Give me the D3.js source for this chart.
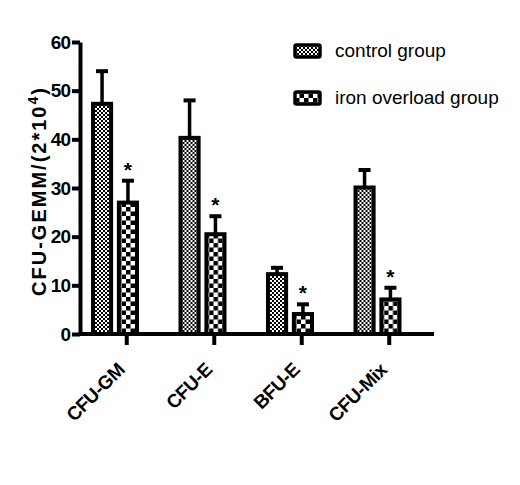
<!DOCTYPE html>
<html>
<head>
<meta charset="utf-8">
<script src="https://cdn.jsdelivr.net/npm/d3@7"></script>
<style>
  body { margin: 0; background: #fff; }
  text { font-family: "Liberation Sans", Arial, sans-serif; }
</style>
</head>
<body>
<div id="chart"></div>
<script>
// data
const categories = ["CFU-GM", "CFU-E", "BFU-E", "CFU-Mix"];
const groupNames = ["control group", "iron overload group"];
const controlMeans = [47.3, 40.3, 12.3, 30.1];
const controlSD = [6.7, 7.7, 1.3, 3.6];
const ironMeans = [27.0, 20.5, 4.1, 7.1];
const ironSD = [4.5, 3.7, 2.0, 2.4];
const significant = [true, true, true, true];
const yTicks = [0, 10, 20, 30, 40, 50, 60];

const width = 520, height = 485;
const plot = {left: 80, right: 434, top: 42, bottom: 334};

const svg = d3.select("#chart").append("svg")
    .attr("width", width)
    .attr("height", height);

// fill patterns: fine checker for control, coarse checker for iron overload
const defs = svg.append("defs");
const fine = defs.append("pattern").attr("id", "fine")
    .attr("patternUnits", "userSpaceOnUse").attr("width", 4).attr("height", 4);
fine.append("rect").attr("width", 4).attr("height", 4).attr("fill", "#fff");
fine.append("rect").attr("width", 2).attr("height", 2).attr("fill", "#000");
fine.append("rect").attr("x", 2).attr("y", 2).attr("width", 2).attr("height", 2).attr("fill", "#000");
const coarse = defs.append("pattern").attr("id", "coarse")
    .attr("patternUnits", "userSpaceOnUse").attr("width", 9).attr("height", 9);
coarse.append("rect").attr("width", 9).attr("height", 9).attr("fill", "#fff");
coarse.append("rect").attr("width", 4.5).attr("height", 4.5).attr("fill", "#000");
coarse.append("rect").attr("x", 4.5).attr("y", 4.5).attr("width", 4.5).attr("height", 4.5).attr("fill", "#000");

const fills = ["url(#fine)", "url(#coarse)"];

const rows = categories.map((c, i) => ({
    cat: c,
    values: [
        {g: 0, mean: controlMeans[i], sd: controlSD[i]},
        {g: 1, mean: ironMeans[i], sd: ironSD[i]}
    ],
    sig: significant[i]
}));

// scales
const x0 = d3.scaleBand().domain(categories).range([plot.left + 1, plot.left + 351]);
const x1 = d3.scaleBand().domain([0, 1]).range([12, 56]).paddingInner(0.3);
const y = d3.scaleLinear().domain([0, 60]).range([plot.bottom, plot.top]);

// bars
const groups = svg.selectAll("g.cat")
    .data(rows)
    .join("g")
    .attr("class", "cat")
    .attr("transform", d => `translate(${x0(d.cat)},0)`);

// error bars (upper only)
groups.selectAll("g.err")
    .data(d => d.values)
    .join("g")
    .attr("class", "err")
    .each(function(d) {
        const cx = x1(d.g) + x1.bandwidth() / 2;
        const g = d3.select(this);
        g.append("line")
            .attr("x1", cx).attr("x2", cx)
            .attr("y1", y(d.mean)).attr("y2", y(d.mean + d.sd))
            .attr("stroke", "#000").attr("stroke-width", 3.5);
        g.append("line")
            .attr("x1", cx - 6).attr("x2", cx + 6)
            .attr("y1", y(d.mean + d.sd)).attr("y2", y(d.mean + d.sd))
            .attr("stroke", "#000").attr("stroke-width", 4);
    });

groups.selectAll("rect.bar")
    .data(d => d.values)
    .join("rect")
    .attr("class", "bar")
    .attr("x", d => x1(d.g))
    .attr("y", d => y(d.mean))
    .attr("width", x1.bandwidth())
    .attr("height", d => y(0) - y(d.mean))
    .attr("fill", d => fills[d.g])
    .attr("stroke", "#000")
    .attr("stroke-width", 4);

// significance stars
groups.filter(d => d.sig).append("text")
    .attr("x", x1(1) + x1.bandwidth() / 2)
    .attr("y", d => y(d.values[1].mean + d.values[1].sd) - 4)
    .attr("text-anchor", "middle")
    .attr("font-size", 21)
    .attr("font-weight", "bold")
    .text("*");

// axes
const yAxis = svg.append("g")
    .attr("transform", `translate(${plot.left},0)`)
    .call(d3.axisLeft(y).tickValues(yTicks).tickSize(8).tickPadding(2).tickSizeOuter(0));
yAxis.select(".domain").attr("stroke-width", 4);
yAxis.selectAll(".tick line").attr("stroke-width", 4);
yAxis.selectAll(".tick text")
    .attr("font-size", 19).attr("font-weight", "bold")
    .attr("font-family", "Liberation Sans, Arial, sans-serif")
    .attr("letter-spacing", -1).attr("fill", "#000");

const tickScale = x0.copy().range([plot.left + 3, plot.left + 353]);
const xAxis = svg.append("g")
    .attr("transform", `translate(0,${plot.bottom})`)
    .call(d3.axisBottom(tickScale).tickSize(11).tickSizeOuter(0).tickFormat(""));
xAxis.select(".domain").attr("d", `M${plot.left},0H${plot.right}`).attr("stroke-width", 4);
xAxis.selectAll(".tick line").attr("stroke-width", 4);

svg.append("g").selectAll("text")
    .data(categories)
    .join("text")
    .attr("transform", d => `translate(${tickScale(d) + tickScale.bandwidth() / 2 - 1},${plot.bottom + 37}) rotate(-45)`)
    .attr("text-anchor", "end")
    .attr("font-size", 19)
    .attr("font-weight", "bold")
    .attr("letter-spacing", -0.5)
    .text(d => d);

// y axis title
const yTitle = svg.append("text")
    .attr("transform", `translate(46,191) rotate(-90)`)
    .attr("text-anchor", "middle")
    .attr("font-size", 20)
    .attr("font-weight", "bold")
    .attr("letter-spacing", 2);
yTitle.append("tspan").text("CFU-GEMM/(2*10");
yTitle.append("tspan").attr("dy", -8).attr("font-size", 14).text("4");
yTitle.append("tspan").attr("dy", 8).text(")");

// legend
const legend = svg.append("g").selectAll("g")
    .data(groupNames)
    .join("g")
    .attr("transform", (d, i) => `translate(295,${51 + i * 47})`);
legend.append("rect")
    .attr("x", 0).attr("y", -6)
    .attr("width", 25).attr("height", 12)
    .attr("rx", 1.5)
    .attr("fill", (d, i) => fills[i])
    .attr("stroke", "#000").attr("stroke-width", 3.5);
legend.append("text")
    .attr("x", 40).attr("y", 6)
    .attr("font-size", 19)
    .text(d => d);
</script>
</body>
</html>
